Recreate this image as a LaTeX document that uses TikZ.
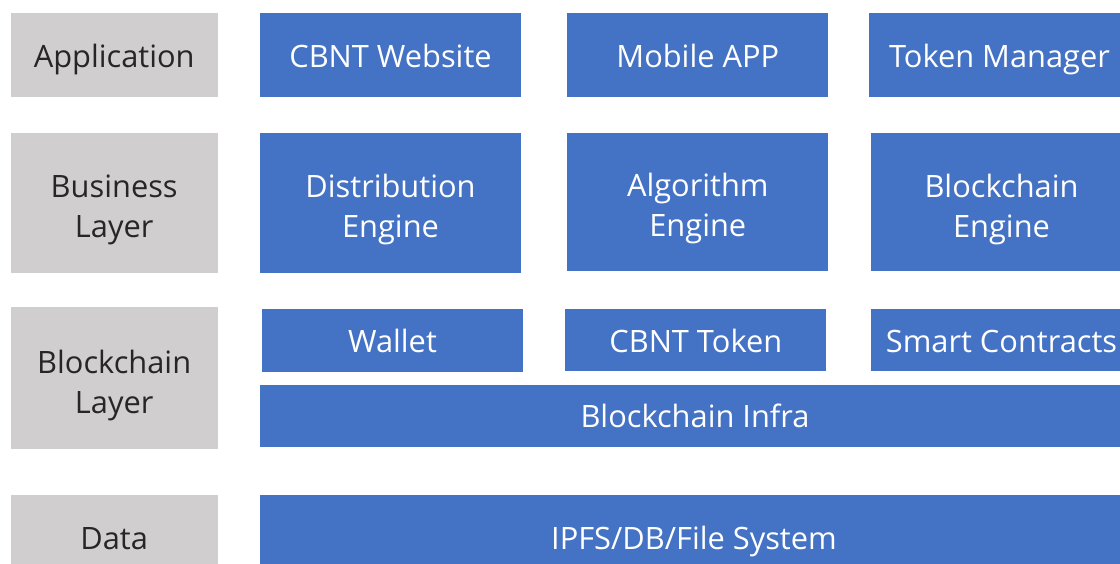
\documentclass[tikz,border=0pt]{standalone}
\usepackage{fontspec}
\setmainfont{Open Sans}
\definecolor{layergray}{HTML}{D0CECE}
\definecolor{boxblue}{HTML}{4472C4}

\begin{document}
\begin{tikzpicture}[x=1pt,y=-1pt,
    layer/.style={fill=layergray, text=black!85, align=center, anchor=north west,
      inner sep=0pt, outer sep=0pt, minimum width=207pt,
      font=\fontsize{30.8}{40}\selectfont},
    block/.style={fill=boxblue, text=white, align=center, anchor=north west,
      inner sep=0pt, outer sep=0pt, minimum width=261pt,
      font=\fontsize{30.8}{40}\selectfont},
    oneline/.style={text height=28pt, text depth=4pt},
    twoline/.style={text height=70pt, text depth=0pt}]

  \useasboundingbox (0,0) rectangle (1120,563);
  \clip (0,0) rectangle (1120,563);

  % Application
  \node[layer, oneline, minimum height=84pt] (application) at (10.7,13.3) {Application};
  \node[block, oneline, minimum height=84pt] (website) at (260,13.3) {CBNT Website};
  \node[block, oneline, minimum height=84pt] (mobile) at (567.3,13.3) {Mobile APP};
  \node[block, oneline, minimum height=84pt] (tokenmgr) at (869,13.3) {Token Manager};

  % Business Layer
  \node[layer, twoline, minimum height=139.5pt] (business) at (10.7,133) {Business\\Layer};
  \node[block, twoline, minimum height=139.5pt] (distribution) at (260,133) {Distribution\\Engine};
  \node[block, twoline, minimum height=137.5pt] (algorithm) at (567.3,133) {Algorithm\\Engine};
  \node[block, twoline, minimum height=138pt] (bcengine) at (871,133) {Blockchain\\Engine};

  % Blockchain Layer
  \node[layer, twoline, minimum height=142pt] (blockchain) at (10.7,307) {Blockchain\\Layer};
  \node[block, oneline, minimum height=62.5pt] (wallet) at (262,309) {Wallet};
  \node[block, oneline, minimum height=62pt] (token) at (565.3,309) {CBNT Token};
  \node[block, oneline, minimum height=62pt] (contracts) at (871,309) {Smart Contracts};
  \node[block, oneline, minimum width=870pt, minimum height=62.5pt] (infra) at (260,384.5) {Blockchain Infra};

  % Data
  \node[layer, oneline, minimum height=84pt] (data) at (10.7,495.3) {Data};
  \node[block, oneline, minimum width=868pt, minimum height=84pt] (storage) at (260,495.3) {IPFS/DB/File System};

\end{tikzpicture}
\end{document}
